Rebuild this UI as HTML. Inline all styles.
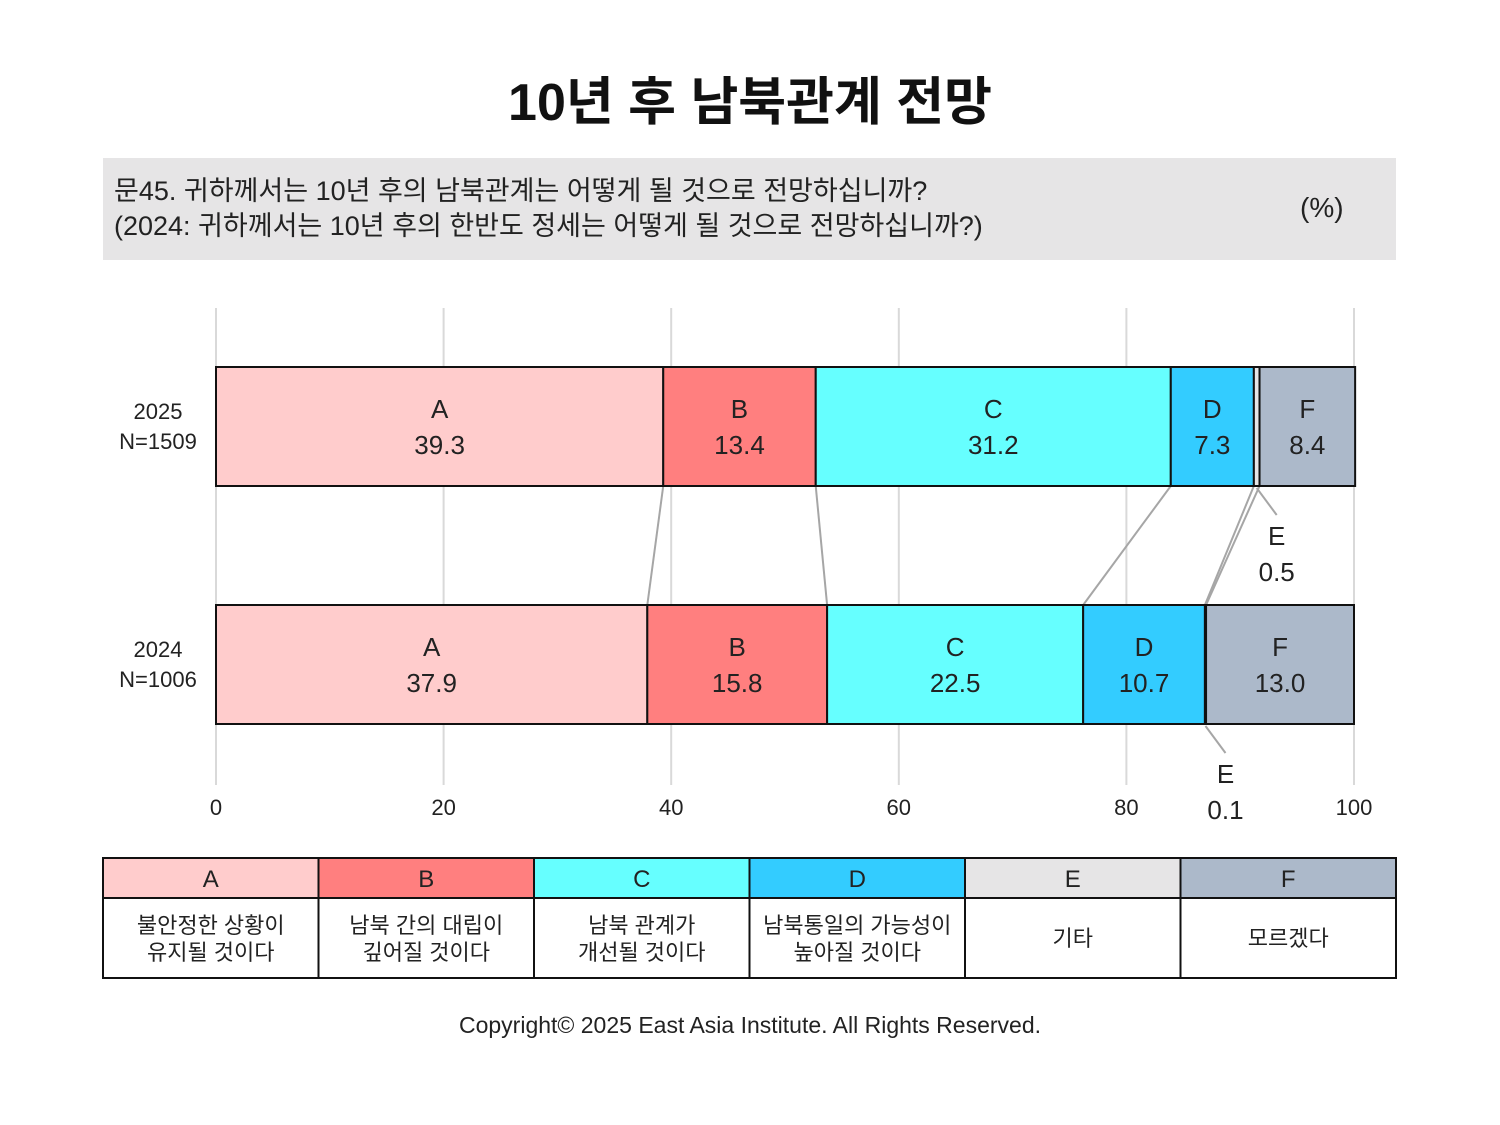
<!DOCTYPE html>
<html><head><meta charset="utf-8"><style>
body{margin:0;background:#fff;font-family:"Liberation Sans","Noto Sans CJK KR",sans-serif;}
#root{position:relative;width:1500px;height:1125px;overflow:hidden;}
.t{position:absolute;}
</style></head><body>
<div id="root">
<div class="t" style="left:0;width:1500px;top:60px;text-align:center;font-size:52px;font-weight:bold;color:#111;">10년 후 남북관계 전망</div>
<div class="t" style="left:103px;top:158px;width:1293px;height:102px;background:#e6e5e6;"></div>
<div class="t" style="left:114px;top:174px;font-size:27px;line-height:35px;color:#222;">문45. 귀하께서는 10년 후의 남북관계는 어떻게 될 것으로 전망하십니까?<br>(2024: 귀하께서는 10년 후의 한반도 정세는 어떻게 될 것으로 전망하십니까?)</div>
<div class="t" style="left:1300px;top:192px;font-size:28px;color:#222;">(%)</div>
<svg class="t" style="left:0;top:0" width="1500" height="1125" id="chart"></svg>
<div class="t" style="left:0;width:1500px;top:1012px;text-align:center;font-size:23px;color:#222;">Copyright© 2025 East Asia Institute. All Rights Reserved.</div>
</div>
<script>
const categories=["A","B","C","D","E","F"];
const years=["2025","2024"];
const samples=["N=1509","N=1006"];
const values2025=[39.3,13.4,31.2,7.3,0.5,8.4];
const values2024=[37.9,15.8,22.5,10.7,0.1,13.0];
const ticks=[0,20,40,60,80,100];
const legendText=[["불안정한 상황이","유지될 것이다"],["남북 간의 대립이","깊어질 것이다"],["남북 관계가","개선될 것이다"],["남북통일의 가능성이","높아질 것이다"],["기타"],["모르겠다"]];
const colors=["#ffcccc","#ff7f7f","#66ffff","#33ccff","#e6e5e6","#acb9ca"];
const svg=document.getElementById('chart');const NS="http://www.w3.org/2000/svg";
const x=v=>216+v*11.38;
function el(t,a,p){const e=document.createElementNS(NS,t);for(const k in a)e.setAttribute(k,a[k]);(p||svg).appendChild(e);return e;}
function txt(s,xx,yy,size,anchor,col){const e=el('text',{x:xx,y:yy,'font-size':size,'text-anchor':anchor||'middle',fill:col||'#222'});e.textContent=s;return e;}
ticks.forEach(t=>{const g=el('line',{x1:x(t),x2:x(t),y1:308,y2:785,stroke:'#d9d9d9','stroke-width':2});

const l=txt(String(t),x(t),815,22);});
const rows=[{v:values2025,y:367},{v:values2024,y:605}];
// connectors
const c1=[],c2=[];let s1=0,s2=0;
for(let i=0;i<categories.length-1;i++){s1+=values2025[i];s2+=values2024[i];
const ln=el('line',{x1:x(s1),y1:486,x2:x(s2),y2:605,stroke:'#a6a6a6','stroke-width':2});
}
rows.forEach((r,ri)=>{let c=0;
const yl=txt(years[ri],158,r.y+52,22);
const nl=txt(samples[ri],158,r.y+82,22);
r.v.forEach((v,i)=>{const rc=el('rect',{x:x(c),y:r.y,width:x(c+v)-x(c),height:119,fill:colors[i],stroke:'#111','stroke-width':2});

const mid=(x(c)+x(c+v))/2;
if(categories[i]!=="E"){const a=txt(categories[i],mid,r.y+51,26);
const b=txt(v.toFixed(1),mid,r.y+87,26);}
else{const ln=el('line',{x1:mid,y1:r.y+121,x2:mid+20,y2:r.y+148,stroke:'#a6a6a6','stroke-width':2});
const a=txt('E',mid+20,r.y+178,26);
const b=txt(v.toFixed(1),mid+20,r.y+214,26);}
c+=v;});});
// legend table
const cw=1293/6;
categories.forEach((k,i)=>{const lx=103+i*cw;
const h=el('rect',{x:lx,y:858,width:cw,height:40,fill:colors[i],stroke:'#111','stroke-width':2});
const ht=txt(k,lx+cw/2,887,24);
const b=el('rect',{x:lx,y:898,width:cw,height:80,fill:'#fff',stroke:'#111','stroke-width':2});
const lines=legendText[i];lines.forEach((s,j)=>{const yy=lines.length==1?946:933+j*27;const tt=txt(s,lx+cw/2,yy,22);
});});
</script>
</body></html>
